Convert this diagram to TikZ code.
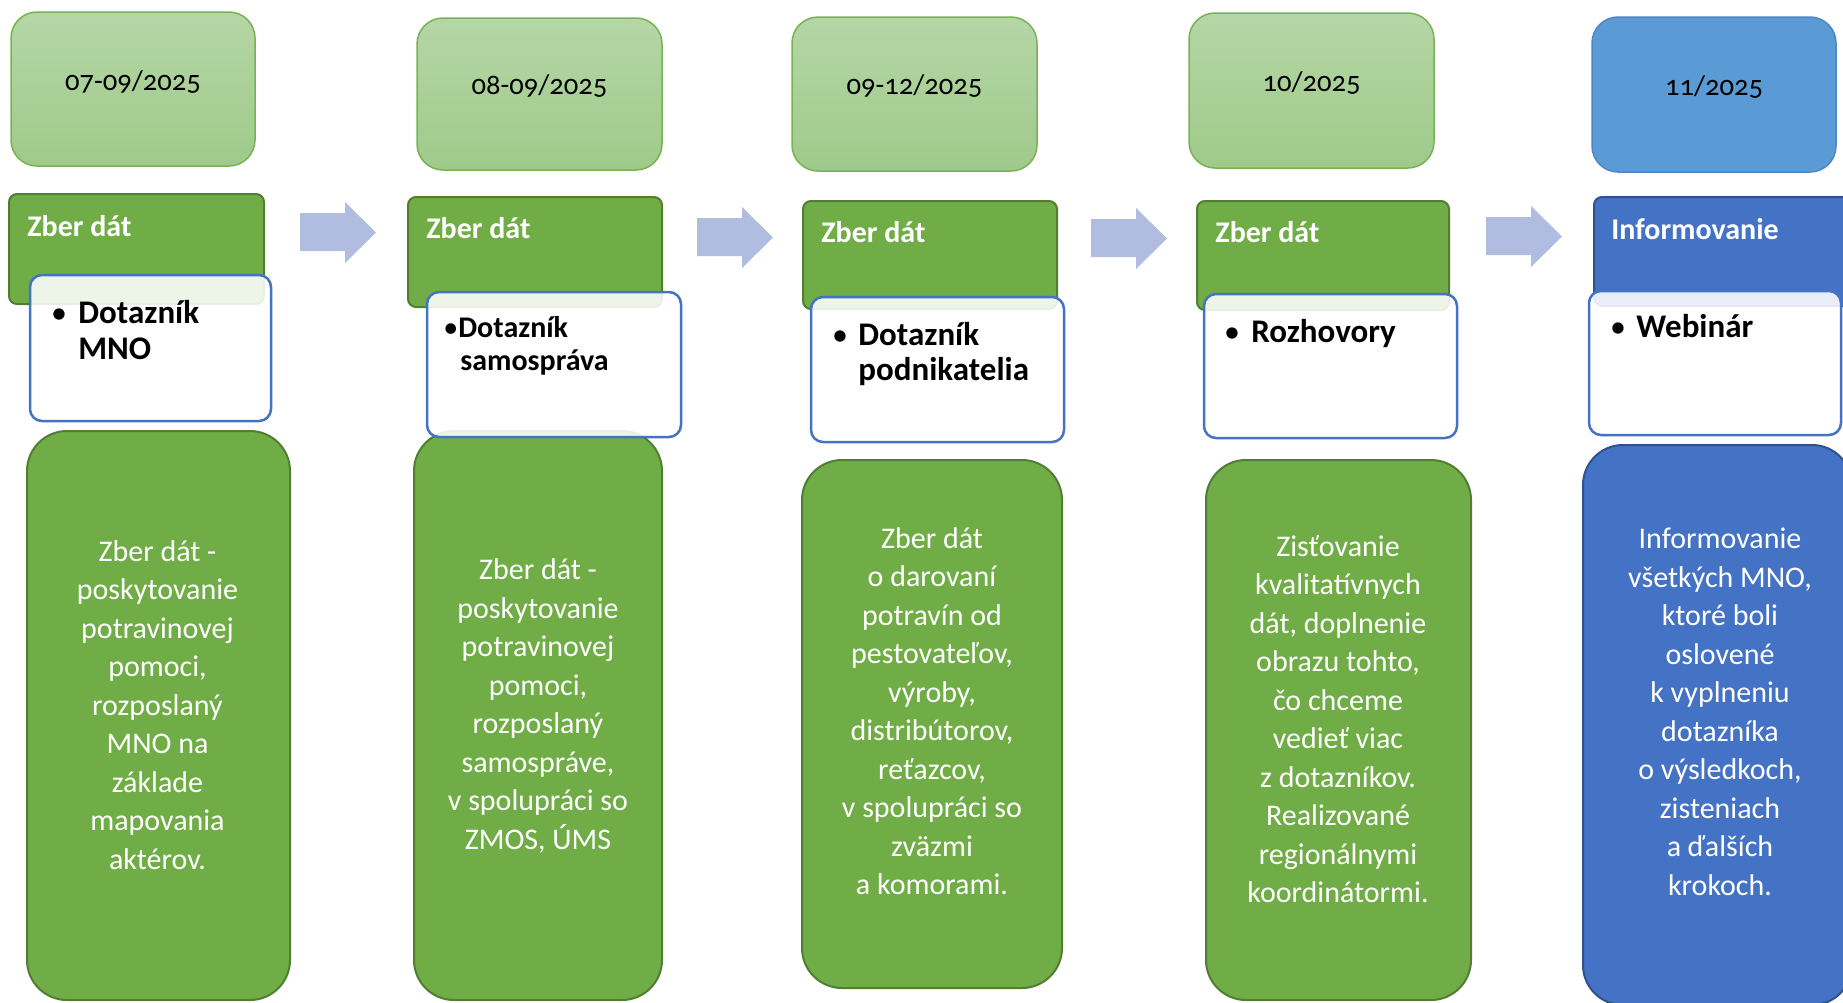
\documentclass[tikz,border=0pt]{standalone}
\usepackage{fontspec}
\setmainfont{Carlito}
\newfontfamily\datefont{Carlito}[Numbers=OldStyle]
\definecolor{gmain}{HTML}{70AD47}
\definecolor{gdark}{HTML}{507E32}
\definecolor{dtop}{HTML}{B5D6A6}
\definecolor{dbot}{HTML}{9FCA8A}
\definecolor{dborder}{HTML}{78B253}
\definecolor{bdate}{HTML}{5B9BD5}
\definecolor{bdateb}{HTML}{4E86C1}
\definecolor{bmain}{HTML}{4472C4}
\definecolor{bdark}{HTML}{2F528F}
\definecolor{blueline}{HTML}{4472C4}
\definecolor{arrowc}{HTML}{B0BCE0}
\begin{document}
\begin{tikzpicture}[x=0.5pt,y=-0.5pt,
  datebox/.style={top color=dtop, bottom color=dbot, draw=dborder, line width=0.75pt, rounded corners=13pt},
  bluedate/.style={fill=bdate, draw=bdateb, line width=0.75pt, rounded corners=13pt},
  headg/.style={fill=gmain, draw=gdark, line width=1pt, rounded corners=4pt},
  headb/.style={fill=bmain, draw=bdark, line width=1pt, rounded corners=4pt},
  bulletbox/.style={fill=white, fill opacity=0.88, draw=blueline, draw opacity=1, line width=1.25pt, rounded corners=6pt},
  descg/.style={fill=gmain, draw=gdark, line width=1pt, rounded corners=20pt},
  descb/.style={fill=bmain, draw=bdark, line width=1pt, rounded corners=20pt},
  arrowshape/.style={fill=arrowc},
  datetxt/.style={font=\datefont\fontsize{14.3}{16}\selectfont, text=black, inner sep=0pt},
  headtxt/.style={font=\bfseries\fontsize{15}{18}\selectfont, text=white, anchor=base west, inner sep=0pt},
  bullettxt/.style={font=\bfseries\fontsize{16.5}{17.5}\selectfont, text=black, anchor=base west, inner sep=0pt},
  bulletsm/.style={font=\bfseries\fontsize{15}{16.5}\selectfont, text=black, anchor=base west, inner sep=0pt},
  bulletdot/.style={font=\fontsize{16}{17.5}\selectfont, text=black, anchor=base, inner sep=0pt},
  desctxt/.style={font=\fontsize{15}{19.25}\selectfont, text=white, align=center, inner sep=0pt}]
\useasboundingbox (0,0) rectangle (1843,1002);
\clip (0,0) rectangle (1843,1002);

% date boxes
\path[datebox] (11,12) rectangle (255,166);
\path[datebox] (417,18) rectangle (662,170);
\path[datebox] (792,17) rectangle (1037,171);
\path[datebox] (1189,13) rectangle (1434,168);
\path[bluedate] (1592,17) rectangle (1836,172);
\node[datetxt] (t1) at (133,82) {07-09/2025};
\node[datetxt] (t2) at (539.5,86) {08-09/2025};
\node[datetxt] (t3) at (914.5,86) {09-12/2025};
\node[datetxt] (t4) at (1311.5,83) {10/2025};
\node[datetxt] (t5) at (1714,87) {11/2025};

% arrows
\foreach \L/\T in {300/202, 697/207, 1091/208, 1486/206} {
  \fill[arrowshape] (\L,\T+11) -- (\L+45,\T+11) -- (\L+45,\T) -- (\L+76,\T+30.5)
    -- (\L+45,\T+61) -- (\L+45,\T+49) -- (\L,\T+49) -- cycle;
}

% description boxes
\path[descg] (27,431) rectangle (290,1000);
\path[descg] (414,431) rectangle (662,1000);
\path[descg] (802,460) rectangle (1062,988);
\path[descg] (1206,460) rectangle (1471,1000);
\path[descb] (1583,445) rectangle (1852,1005);

% headers
\path[headg] (9,194) rectangle (264,304);
\path[headg] (408,197) rectangle (662,307);
\path[headg] (803,201) rectangle (1057,309);
\path[headg] (1197,201) rectangle (1449,310);
\path[headb] (1594,197) rectangle (1852,306);
\node[headtxt] (h1) at (27,236) {Zber dát};
\node[headtxt] (h2) at (426,238) {Zber dát};
\node[headtxt] (h3) at (821,242) {Zber dát};
\node[headtxt] (h4) at (1215,242) {Zber dát};
\node[headtxt] (h5) at (1611,239) {Informovanie};

% bullet boxes
\path[bulletbox] (30,275) rectangle (271,421);
\path[bulletbox] (427,292) rectangle (681,437);
\path[bulletbox] (811,297) rectangle (1064,442);
\path[bulletbox] (1204,294) rectangle (1457,438);
\path[bulletbox] (1589,291) rectangle (1841,435);

\node[bulletdot] (b1) at (59,323) {•};
\node[bullettxt] (w1a) at (78,323) {Dotazník};
\node[bullettxt] (w1b) at (78,359) {MNO};
\node[bulletsm] (w2a) at (443,337) {{\mdseries•}Dotazník};
\node[bulletsm] (w2b) at (460,370) {samospráva};
\node[bulletdot] (b3) at (840,345) {•};
\node[bullettxt] (w3a) at (858,345) {Dotazník};
\node[bullettxt] (w3b) at (858,380) {podnikatelia};
\node[bulletdot] (b4) at (1232,342) {•};
\node[bullettxt] (w4a) at (1251,342) {Rozhovory};
\node[bulletdot] (b5) at (1618,337) {•};
\node[bullettxt] (w5a) at (1636,337) {Webinár};

% description texts
\node[desctxt] (g1) at (157.5,705) {Zber dát -\\poskytovanie\\potravinovej\\pomoci,\\rozposlaný\\MNO na\\základe\\mapovania\\aktérov.};
\node[desctxt] (g2) at (538,706) {Zber dát -\\poskytovanie\\potravinovej\\pomoci,\\rozposlaný\\samospráve,\\v spolupráci so\\ZMOS, ÚMS};
\node[desctxt] (g3) at (932,711) {Zber dát\\o darovaní\\potravín od\\pestovateľov,\\výroby,\\distribútorov,\\reťazcov,\\v spolupráci so\\zväzmi\\a komorami.};
\node[desctxt] (g4) at (1338,719) {Zisťovanie\\kvalitatívnych\\dát, doplnenie\\obrazu tohto,\\čo chceme\\vedieť viac\\z dotazníkov.\\Realizované\\regionálnymi\\koordinátormi.};
\node[desctxt] (g5) at (1720,712) {Informovanie\\všetkých MNO,\\ktoré boli\\oslovené\\k vyplneniu\\dotazníka\\o výsledkoch,\\zisteniach\\a ďalších\\krokoch.};
\end{tikzpicture}
\end{document}
